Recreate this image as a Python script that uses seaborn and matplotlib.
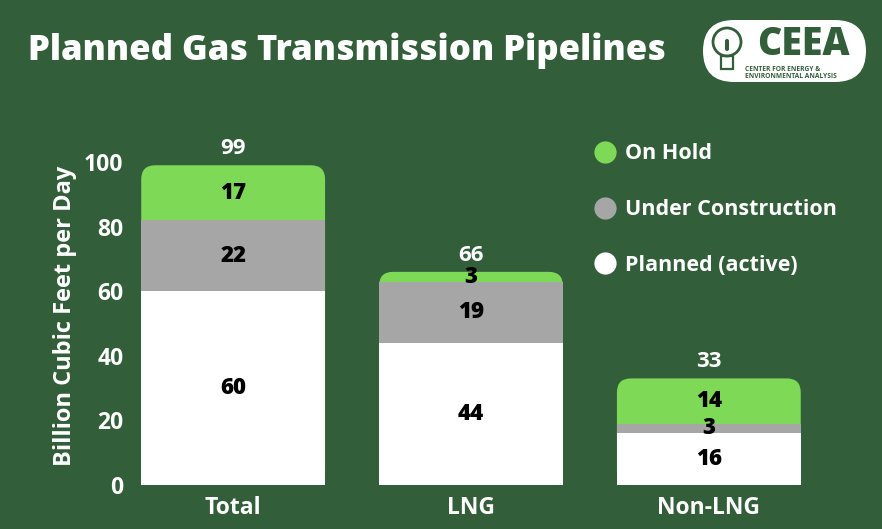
import matplotlib
matplotlib.use("Agg")
import matplotlib.pyplot as plt
from matplotlib.patches import FancyBboxPatch, Circle, Rectangle
from matplotlib.lines import Line2D
import seaborn as sns
import pandas as pd
import numpy as np

categories = ["Total", "LNG", "Non-LNG"]
planned = [60, 44, 16]
under_construction = [22, 19, 3]
on_hold = [17, 3, 14]
totals = [99, 66, 33]
yticks = [0, 20, 40, 60, 80, 100]

BG = "#335e3a"
GREEN = "#7ed957"
GRAY = "#a6a6a6"
WHITE = "#ffffff"

sns.set_theme(style="white")
plt.rcParams['font.family'] = ['Open Sans', 'DejaVu Sans']

df = pd.DataFrame({
    "category": categories,
    "planned": planned,
    "construction": under_construction,
    "hold": on_hold,
})
df["lvl2"] = df["planned"] + df["construction"]
df["lvl3"] = df["lvl2"] + df["hold"]

fig = plt.figure(figsize=(8.82, 5.29), dpi=100)
fig.patch.set_facecolor(BG)
ax = fig.add_axes([0.143, 0.0832, 0.782, 0.641])
ax.set_facecolor(BG)

W = 0.773
sns.barplot(data=df, x="category", y="lvl3", color=GREEN, width=W, ax=ax,
            saturation=1, linewidth=0, order=categories)
n_green = len(ax.patches)
sns.barplot(data=df, x="category", y="lvl2", color=GRAY, width=W, ax=ax,
            saturation=1, linewidth=0, order=categories)
sns.barplot(data=df, x="category", y="planned", color=WHITE, width=W, ax=ax,
            saturation=1, linewidth=0, order=categories)

ax.set_xlim(-0.45, 2.45)
ax.set_ylim(0, 105)

# replace green (top) patches with rounded-top versions
fig.canvas.draw()
inv = ax.transData
p0 = inv.transform((0, 0)); p1 = inv.transform((1, 1))
px_per_x = p1[0] - p0[0]
px_per_y = p1[1] - p0[1]
aspect = px_per_x / px_per_y
r = 14 / px_per_x
for p in list(ax.patches[:n_green]):
    x, w, h = p.get_x(), p.get_width(), p.get_height()
    fb = FancyBboxPatch((x, 0), w, h,
                        boxstyle=f"round,pad=0,rounding_size={r}",
                        mutation_aspect=aspect, facecolor=p.get_facecolor(),
                        edgecolor="none", zorder=0.9)
    p.remove()
    ax.add_patch(fb)

# segment labels
for i in range(len(categories)):
    b = 0
    for v in (planned[i], under_construction[i], on_hold[i]):
        ax.text(i, b + v / 2, str(v), ha="center", va="center",
                fontsize=16, fontweight="heavy", color="black", zorder=5)
        b += v
    ax.annotate(str(totals[i]), (i, totals[i]), xytext=(0, 4.5),
                textcoords="offset points", ha="center", va="bottom",
                fontsize=16, fontweight="bold", color="white", zorder=5)

ax.set_yticks(yticks)
ax.set_yticklabels([str(t) for t in yticks])
ax.tick_params(axis="both", length=0, colors="white", labelsize=16.5)
ax.tick_params(axis="y", pad=2)
ax.tick_params(axis="x", pad=8)
for lbl in ax.get_xticklabels() + ax.get_yticklabels():
    lbl.set_fontweight("bold")
    lbl.set_color("white")
ax.set_xlabel("")
ax.set_ylabel("Billion Cubic Feet per Day", color="white", fontsize=17,
              fontweight="bold", labelpad=5)
for s in ax.spines.values():
    s.set_visible(False)

handles = [Line2D([0], [0], marker="o", linestyle="none", markersize=16,
                  markerfacecolor=c, markeredgecolor="none")
           for c in (GREEN, GRAY, WHITE)]
leg = ax.legend(handles, ["On Hold", "Under Construction", "Planned (active)"],
                loc="upper left", bbox_to_anchor=(0.648, 1.065), frameon=False,
                labelspacing=1.62, handletextpad=0.3, handlelength=1.2,
                prop={"weight": "bold", "size": 15.5})
for t in leg.get_texts():
    t.set_color("white")

fig.text(0.032, 0.905, "Planned Gas Transmission Pipelines", color="white",
         fontsize=25, fontweight="heavy", ha="left", va="center")

# logo (coordinates in inches from bottom-left)
T = fig.dpi_scale_trans
logo = FancyBboxPatch((7.03, 4.47), 1.63, 0.62,
                      boxstyle="round,pad=0,rounding_size=0.31",
                      transform=T, facecolor="white", edgecolor="none")
fig.patches.append(logo)
fig.patches.append(Circle((7.27, 4.87), 0.14, transform=T,
                          facecolor="none", edgecolor=BG, linewidth=2))
fig.patches.append(Rectangle((7.21, 4.60), 0.12, 0.13, transform=T,
                             facecolor="none", edgecolor=BG, linewidth=1.6))
fig.patches.append(FancyBboxPatch((7.25, 4.78), 0.04, 0.12, transform=T,
                                  boxstyle="round,pad=0,rounding_size=0.02",
                                  facecolor=BG, edgecolor="none"))
fig.text(8.03 / 8.82, 0.915, "CEEA", color=BG, fontsize=27,
         fontweight="heavy", ha="center", va="center")
fig.text(7.45 / 8.82, 0.862, "CENTER FOR ENERGY &\nENVIRONMENTAL ANALYSIS",
         color=BG, fontsize=4.8, fontweight="bold", ha="left", va="center",
         linespacing=1.0)

fig.savefig("out.png", dpi=100, facecolor=BG)
